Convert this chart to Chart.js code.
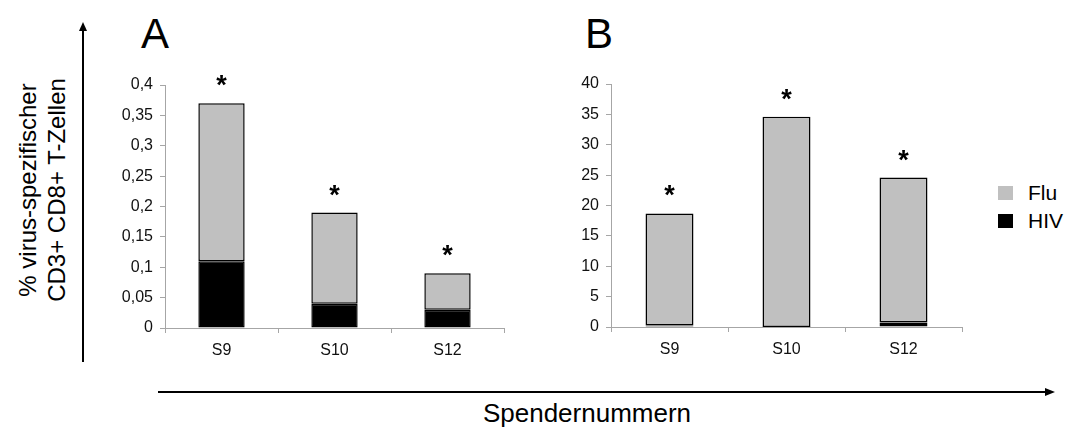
<!DOCTYPE html>
<html>
<head>
<meta charset="utf-8">
<script src="https://cdn.jsdelivr.net/npm/chart.js@4.4.1/dist/chart.umd.min.js"></script>
<style>
  html, body { margin: 0; padding: 0; background: #fff; }
  body { width: 1068px; height: 427px; position: relative; overflow: hidden;
         font-family: Arial, "Liberation Sans", sans-serif; color: #000; }
  .panel { position: absolute; }
  .title { position: absolute; font-size: 42px; line-height: 1; }
  .ylabel { position: absolute; left: 42px; top: 190px; width: 320px; text-align: center;
            font-size: 24px; line-height: 29px; transform: translate(-50%, -50%) rotate(-90deg); }
  .xlabel { position: absolute; left: 587px; top: 400px; transform: translateX(-50%);
            font-size: 26px; line-height: 1; white-space: nowrap; }
  .legend { position: absolute; left: 998px; top: 179px; font-size: 21px; }
  .legend div { height: 28px; display: flex; align-items: center; }
  .legend span.box { display: inline-block; width: 15px; height: 14px; margin-right: 15px; }
  svg { position: absolute; left: 0; top: 0; }
</style>
</head>
<body>

<svg width="1068" height="427">
  <line x1="83" y1="362" x2="83" y2="30" stroke="#000" stroke-width="2"/>
  <polygon points="83,22 79,31 87,31" fill="#000"/>
  <line x1="158" y1="392" x2="1046" y2="392" stroke="#000" stroke-width="2"/>
  <polygon points="1055,392 1045,388 1045,396" fill="#000"/>
</svg>

<div class="ylabel">% virus-spezifischer<br>CD3+ CD8+ T-Zellen</div>
<div class="xlabel">Spendernummern</div>

<div class="title" style="left:141px; top:13px;">A</div>
<div class="title" style="left:585px; top:13px;">B</div>

<div class="panel" style="left:100px; top:60px; width:420px; height:310px;">
  <canvas id="chartA" width="420" height="310"></canvas>
</div>
<div class="panel" style="left:546px; top:60px; width:430px; height:310px;">
  <canvas id="chartB" width="430" height="310"></canvas>
</div>

<div class="legend" id="legend"></div>

<script>
// donors
const donors = ['S9', 'S10', 'S12'];

// panel A (HIV-specific scale)
const hivA = [0.11, 0.04, 0.03];
const fluA = [0.26, 0.15, 0.06];

// panel B (Flu scale)
const hivB = [0.25, 0.02, 0.75];
const fluB = [18.45, 34.58, 23.85];

const seriesNames = ['Flu', 'HIV'];
const seriesColors = ['#c0c0c0', '#000000'];

const axisGray = '#a6a6a6';
const fontFam = 'Arial, "Liberation Sans", sans-serif';

// draws the significance stars above each stacked bar
const starPlugin = {
  id: 'stars',
  afterDatasetsDraw(chart) {
    const ctx = chart.ctx;
    const yScale = chart.scales.y;
    const top = chart.getDatasetMeta(chart.data.datasets.length - 1);
    ctx.save();
    ctx.fillStyle = '#000';
    ctx.font = 'bold 27px ' + fontFam;
    ctx.textAlign = 'center';
    ctx.textBaseline = 'alphabetic';
    chart.data.labels.forEach((lbl, i) => {
      let total = 0;
      chart.data.datasets.forEach(ds => { total += ds.data[i]; });
      const x = top.data[i].x;
      const y = yScale.getPixelForValue(total);
      ctx.fillText('*', x, y - 9);
    });
    ctx.restore();
  }
};

function makeChart(id, hiv, flu, yMax, step, axisW, padTop, padRight, xH) {
  return new Chart(document.getElementById(id), {
    type: 'bar',
    data: {
      labels: donors,
      datasets: [
        {
          label: seriesNames[1],
          data: hiv,
          backgroundColor: seriesColors[1],
          borderColor: '#000',
          borderWidth: 1.5,
          borderSkipped: false,
          categoryPercentage: 1,
          barPercentage: 0.41
        },
        {
          label: seriesNames[0],
          data: flu,
          backgroundColor: seriesColors[0],
          borderColor: '#000',
          borderWidth: 1.5,
          borderSkipped: false,
          categoryPercentage: 1,
          barPercentage: 0.41
        }
      ]
    },
    options: {
      responsive: false,
      animation: false,
      layout: { padding: { top: padTop, right: padRight, left: 0, bottom: 0 } },
      plugins: {
        legend: { display: false },
        tooltip: { enabled: false }
      },
      scales: {
        x: {
          stacked: true,
          grid: { drawOnChartArea: false, drawTicks: true, tickLength: 5, color: axisGray },
          border: { color: axisGray, width: 1 },
          ticks: { color: '#111', font: { size: 16, family: fontFam }, padding: 8 },
          afterFit: (s) => { s.height = xH; }
        },
        y: {
          stacked: true,
          min: 0,
          max: yMax,
          grid: { drawOnChartArea: false, drawTicks: true, tickLength: 5, color: axisGray },
          border: { color: axisGray, width: 1 },
          ticks: {
            stepSize: step,
            color: '#111',
            font: { size: 16, family: fontFam },
            padding: 7,
            callback: (v) => String(+v.toFixed(2)).replace('.', ',')
          },
          afterFit: (s) => { s.width = axisW; }
        }
      }
    },
    plugins: [starPlugin]
  });
}

makeChart('chartA', hivA, fluA, 0.4, 0.05, 65, 25, 16, 42);
makeChart('chartB', hivB, fluB, 40, 5, 65, 24, 14, 43);

// legend
const legendEl = document.getElementById('legend');
seriesNames.forEach((name, i) => {
  const row = document.createElement('div');
  row.innerHTML = '<span class="box" style="background:' + seriesColors[i] + '"></span>' + name;
  legendEl.appendChild(row);
});
</script>
</body>
</html>
